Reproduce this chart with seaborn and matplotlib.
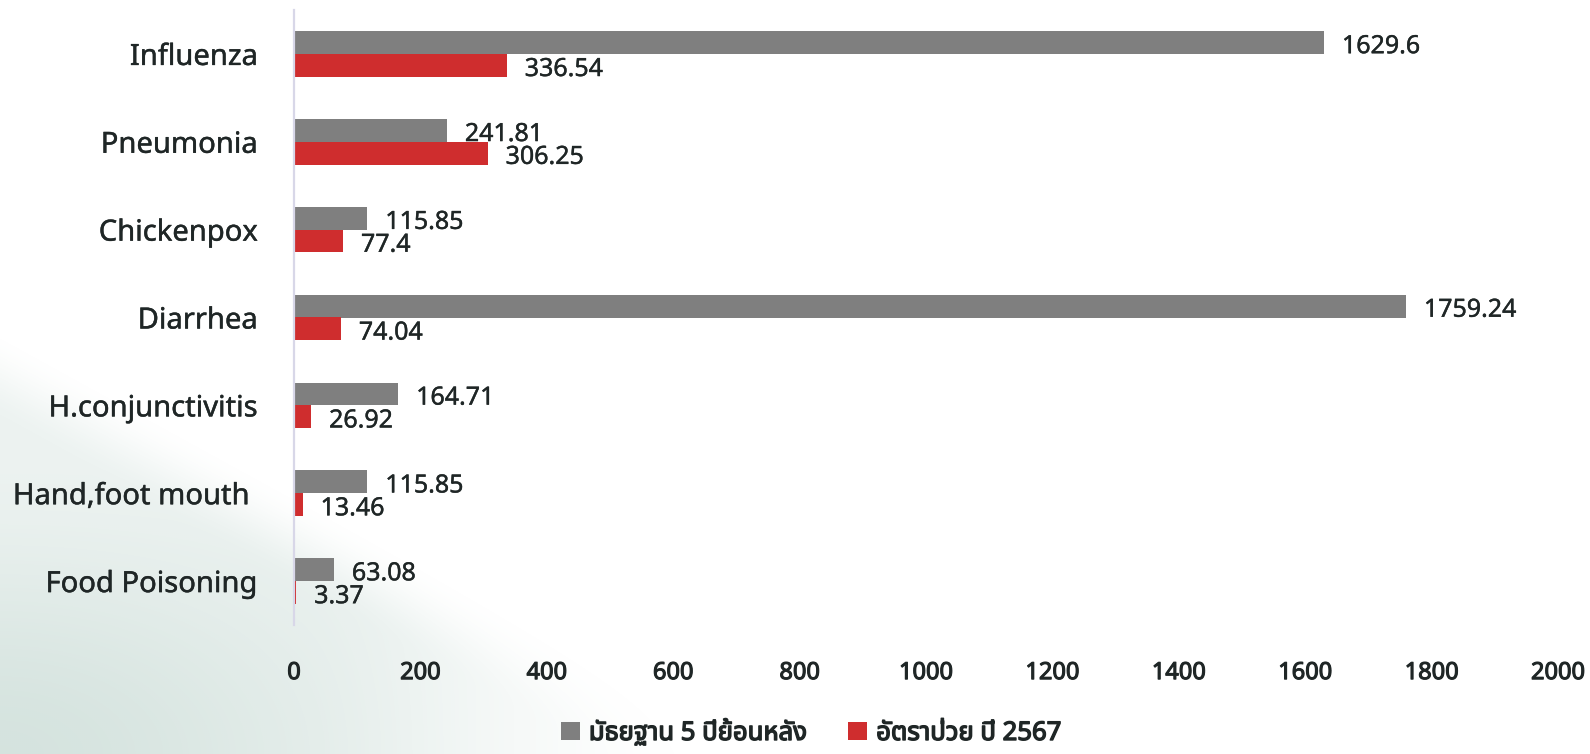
import numpy as np
import pandas as pd
import matplotlib
matplotlib.use("Agg")
import matplotlib.pyplot as plt
import matplotlib.patheffects as pe
import seaborn as sns

# Disease rates per 100,000 population
diseases = ["Influenza", "Pneumonia", "Chickenpox", "Diarrhea",
            "H.conjunctivitis", "Hand,foot mouth ", "Food Poisoning"]
median_5yr = [1629.6, 241.81, 115.85, 1759.24, 164.71, 115.85, 63.08]
rate_2567 = [336.54, 306.25, 77.4, 74.04, 26.92, 13.46, 3.37]
series_names = ["มัธยฐาน 5 ปีย้อนหลัง", "อัตราป่วย ปี 2567"]
x_ticks = [0, 200, 400, 600, 800, 1000, 1200, 1400, 1600, 1800, 2000]

GREY = "#7f7f7f"
RED = "#cf2d2e"
TEXT = "#1f2626"
AXIS_LINE = "#d8d7e8"

sns.set_style("white")
plt.rcParams["font.family"] = ["Noto Sans Thai", "Noto Sans", "DejaVu Sans"]

def heavy(w):
    return [pe.withStroke(linewidth=w, foreground=TEXT)]

def smoothstep(a, b, x):
    t = np.clip((x - a) / (b - a), 0, 1)
    return t * t * (3 - 2 * t)

df = pd.DataFrame({
    "disease": diseases * 2,
    "series": [series_names[0]] * len(diseases) + [series_names[1]] * len(diseases),
    "value": median_5yr + rate_2567,
})

W, H = 1590, 754
fig = plt.figure(figsize=(W / 100, H / 100), dpi=100, facecolor="white")

# Soft green wash in the lower-left corner
bg = fig.add_axes([0, 0, 1, 1], zorder=-1)
py, px = np.mgrid[0:H:2, 0:W:2].astype(float)
top_edge = 345 + 0.55 * px
edge = smoothstep(-15, 80, py - top_edge)
xfade = 1 - smoothstep(300, 720, px)
corner = smoothstep(450, 754, py) * (1 - smoothstep(0, 520, px))
alpha = (0.2 * xfade + 0.24 * corner) * edge
wash = np.zeros(py.shape + (4,))
wash[..., 0] = 160 / 255
wash[..., 1] = 192 / 255
wash[..., 2] = 182 / 255
wash[..., 3] = np.clip(alpha, 0, 0.5)
bg.imshow(wash, extent=[0, 1, 0, 1], aspect="auto", interpolation="bilinear")
bg.set_axis_off()

ax = fig.add_axes([294 / W, 1 - 625 / H, (1558 - 294) / W, (625 - 10) / H])
ax.set_facecolor("none")

sns.barplot(data=df, y="disease", x="value", hue="series", orient="h",
            palette=[GREY, RED], saturation=1, width=0.52, dodge=True,
            linewidth=0, errorbar=None, ax=ax)

# Value labels to the right of each bar
for container in ax.containers:
    for bar in container:
        w = bar.get_width()
        yc = bar.get_y() + bar.get_height() / 2
        ax.annotate(f"{w:g}", xy=(w, yc), xytext=(13, -3),
                    textcoords="offset points", ha="left", va="center",
                    fontsize=18, color=TEXT, path_effects=heavy(0.3))

ax.set_xlim(0, 2000)
ax.set_xticks(x_ticks)
ax.set_xticklabels([str(t) for t in x_ticks], fontsize=17, color=TEXT)
for lbl in ax.get_xticklabels():
    lbl.set_path_effects(heavy(0.8))
ax.tick_params(axis="x", length=0, pad=26)
ax.tick_params(axis="y", length=0, pad=26, labelsize=21, labelcolor=TEXT)
for lbl in ax.get_yticklabels():
    lbl.set_path_effects(heavy(0.3))
ax.set_xlabel("")
ax.set_ylabel("")
for side in ["top", "right", "bottom"]:
    ax.spines[side].set_visible(False)
ax.spines["left"].set_color(AXIS_LINE)
ax.spines["left"].set_linewidth(1.6)

handles, labels = ax.get_legend_handles_labels()
ax.get_legend().remove()
leg = fig.legend(handles, labels, loc="center", bbox_to_anchor=(811 / W, 1 - 733 / H),
                 ncol=2, frameon=False, handlelength=0.75, handleheight=0.75,
                 handletextpad=0.35, columnspacing=1.6,
                 prop={"size": 18.5}, labelcolor=TEXT)
for t in leg.get_texts():
    t.set_path_effects(heavy(1.0))

fig.savefig("out.png", dpi=100, facecolor="white")
